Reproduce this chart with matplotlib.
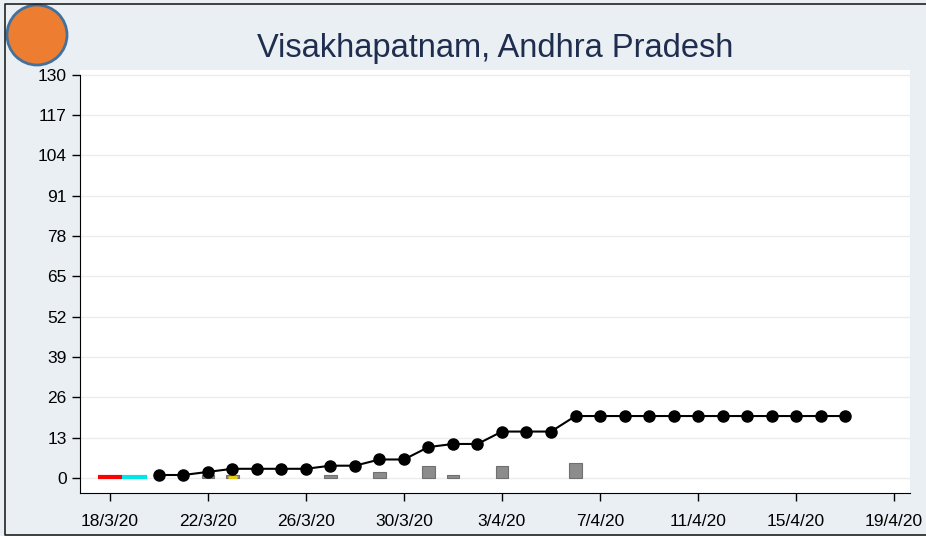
import datetime as dt
import matplotlib
matplotlib.use('Agg')
import matplotlib.pyplot as plt
import matplotlib.dates as mdates
from matplotlib.patches import Ellipse
from matplotlib.lines import Line2D

plt.rcParams['font.family'] = ['Liberation Sans', 'DejaVu Sans']

# 累计确诊（折线）
line_dates = ['2020-03-20', '2020-03-21', '2020-03-22', '2020-03-23', '2020-03-24',
              '2020-03-25', '2020-03-26', '2020-03-27', '2020-03-28', '2020-03-29',
              '2020-03-30', '2020-03-31', '2020-04-01', '2020-04-02', '2020-04-03',
              '2020-04-04', '2020-04-05', '2020-04-06', '2020-04-07', '2020-04-08',
              '2020-04-09', '2020-04-10', '2020-04-11', '2020-04-12', '2020-04-13',
              '2020-04-14', '2020-04-15', '2020-04-16', '2020-04-17']
cases = [1, 1, 2, 3, 3, 3, 3, 4, 4, 6, 6, 10, 11, 11, 15, 15, 15, 20,
         20, 20, 20, 20, 20, 20, 20, 20, 20, 20, 20]

# 每日新增（灰色柱）
bar_dates = ['2020-03-22', '2020-03-23', '2020-03-27', '2020-03-29',
             '2020-03-31', '2020-04-01', '2020-04-03', '2020-04-06']
new_cases = [1, 1, 1, 2, 4, 1, 4, 5]

# 开头两段彩色标记
seg_dates = ['2020-03-18', '2020-03-19']
seg_colors = ['#ff0000', '#00e5e5']

tick_dates = ['2020-03-18', '2020-03-22', '2020-03-26', '2020-03-30', '2020-04-03',
              '2020-04-07', '2020-04-11', '2020-04-15', '2020-04-19']
y_ticks = [0, 13, 26, 39, 52, 65, 78, 91, 104, 117, 130]

def to_date(s):
    return dt.datetime.strptime(s, '%Y-%m-%d')

line_x = [to_date(d) for d in line_dates]
bar_x = [to_date(d) for d in bar_dates]
tick_x = [to_date(d) for d in tick_dates]
half = dt.timedelta(hours=12)

fig = plt.figure(figsize=(9.26, 5.36), dpi=100, facecolor='#e9eff3')
ax = fig.add_axes([80 / 926, 43 / 536, 830 / 926, 423 / 536])
ax.set_facecolor('white')

for y in y_ticks:
    ax.axhline(y, color='#ececec', lw=1, zorder=0)

ax.bar(bar_x, new_cases, width=0.5, color='#8c8c8c', edgecolor='#707070',
       lw=0.8, zorder=2)
# 23/3 柱子里的黄色小标记
ax.hlines(0.4, to_date('2020-03-23') - dt.timedelta(hours=4),
          to_date('2020-03-23') + dt.timedelta(hours=4), color='#f0d000', lw=2, zorder=3)

for d, c in zip(seg_dates, seg_colors):
    x0 = to_date(d)
    ax.hlines(0.5, x0 - half, x0 + half, color=c, lw=3, zorder=3)

ax.plot(line_x, cases, color='black', lw=1.5, marker='o', markersize=8, zorder=4)

ax.set_xlim(to_date('2020-03-18') - dt.timedelta(days=1.22),
            to_date('2020-04-19') + dt.timedelta(days=0.65))
ax.set_ylim(-4.8, 131.5)
ax.set_yticks(y_ticks)
ax.set_xticks(tick_x)
ax.xaxis.set_major_formatter(plt.FuncFormatter(
    lambda v, p: '{d.day}/{d.month}/{y}'.format(d=mdates.num2date(v), y=mdates.num2date(v).strftime('%y'))))

for s in ['top', 'right']:
    ax.spines[s].set_visible(False)
ax.spines['left'].set_bounds(-4.8, 130)
ax.tick_params(axis='both', direction='out', length=6, width=1, labelsize=12.5, colors='black')
ax.tick_params(axis='x', pad=9)

fig.text(0.535, 1 - 48 / 536, 'Visakhapatnam, Andhra Pradesh', ha='center', va='center',
         fontsize=23.5, color='#1f2d4e')

# 左上角橙色圆
fig.add_artist(Ellipse((37 / 926, 1 - 35 / 536), 60 / 926, 60 / 536,
                       transform=fig.transFigure, facecolor='#ed7d31',
                       edgecolor='#41719c', lw=2))
# 外框（上、左、下）
fig.add_artist(Line2D([1.0, 5 / 926, 5 / 926, 1.0], [1 - 4 / 536, 1 - 4 / 536, 1 / 536, 1 / 536],
                      transform=fig.transFigure, color='#222222', lw=1.2))

fig.savefig('out.png', dpi=100, facecolor=fig.get_facecolor())
